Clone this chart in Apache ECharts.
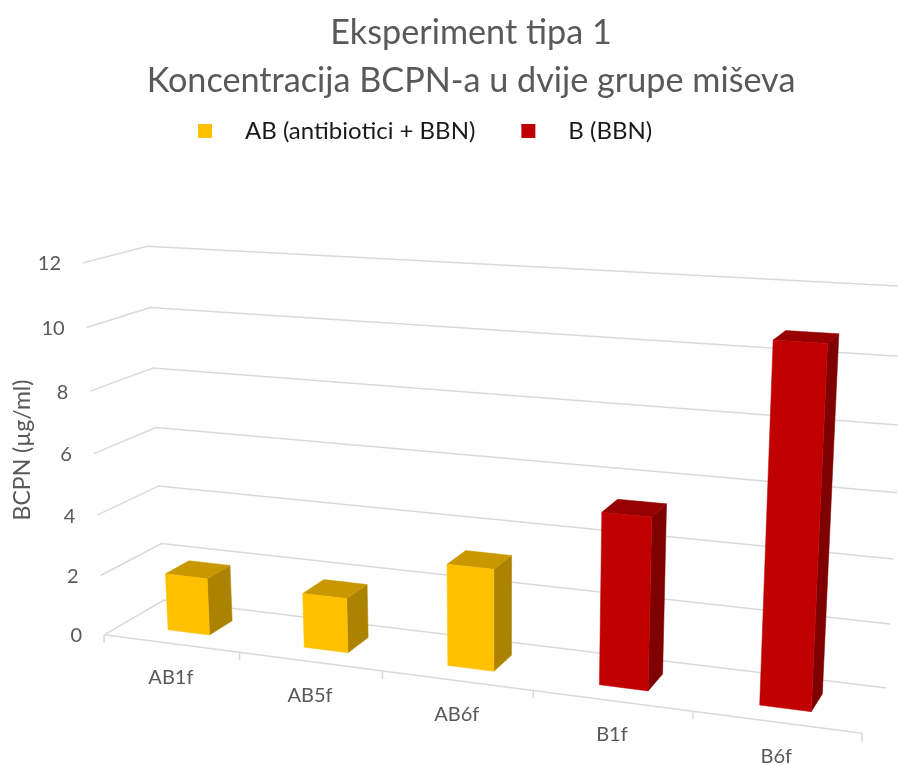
<!DOCTYPE html>
<html><head><meta charset="utf-8">
<style>html,body{margin:0;padding:0;background:#fff}#c{width:898px;height:765px}</style>
<script src="https://cdn.jsdelivr.net/npm/echarts@6/dist/echarts.min.js"></script>
</head><body><div id="c"></div>
<script>
const categories = ['AB1f','AB5f','AB6f','B1f','B6f'];
const abValues = [1.9,1.78,3.25,null,null];
const bValues = [null,null,null,5.35,10.75];
const yTicks = [0,2,4,6,8,10,12];
const FONT = 'Lato';

// Camera calibration: [X band, Y value, Z depth, screen x, screen y]
const anchors = [
 [0,0,0,105,634],[1,0,0,240,653],[2,0,0,382,672],[3,0,0,533,691],[4,0,0,693,711],[5,0,0,862,733],
 [0,12,0,82,263],[0,6,0,94,453],
 [0,0,1,163,600],[0,6,1,156,428],[0,12,1,148,246],
 [5,0,1,887,688],[5,6,1,897,492],[5,12,1,909,287]
];
function solve(A,b){const n=b.length;A=A.map((r,i)=>r.concat(b[i]));
 for(let c=0;c<n;c++){let m=c;for(let r=c+1;r<n;r++)if(Math.abs(A[r][c])>Math.abs(A[m][c]))m=r;
  [A[c],A[m]]=[A[m],A[c]];
  for(let r=0;r<n;r++){if(r===c)continue;const f=A[r][c]/A[c][c];for(let k=c;k<=n;k++)A[r][k]-=f*A[c][k];}}
 return A.map((r,i)=>r[n]/r[i]);}
const cam=(function(){const rows=[],rhs=[];
 anchors.forEach(([X,Y,Z,u,v])=>{const x=X/5,y=Y/12;u/=1000;v/=1000;
  rows.push([x,y,Z,1,0,0,0,0,-u*x,-u*y,-u*Z]);rhs.push(u);
  rows.push([0,0,0,0,x,y,Z,1,-v*x,-v*y,-v*Z]);rhs.push(v);});
 const n=11,N=[],t=[];
 for(let i=0;i<n;i++){N.push(new Array(n).fill(0));t.push(0);
  rows.forEach((r,k)=>{t[i]+=r[i]*rhs[k];for(let j=0;j<n;j++)N[i][j]+=r[i]*r[j];});}
 return solve(N,t);})();
function project(X,Y,Z){const x=X/5,y=Y/12,w=cam[8]*x+cam[9]*y+cam[10]*Z+1;
 return [1000*(cam[0]*x+cam[1]*y+cam[2]*Z+cam[3])/w,1000*(cam[4]*x+cam[5]*y+cam[6]*Z+cam[7])/w];}
// data value -> axis pixel (library scale) -> world -> screen
function mapper(params,api){const cs=params.coordSys;
 return function(i,v,dx,z){const c=api.coord([i,v]);
  const X=(c[0]-cs.x)/cs.width*categories.length+dx;
  const Y=(cs.y+cs.height-c[1])/cs.height*12;
  return project(X,Y,z);};}

const HALF=0.155,Z0=0.30,Z1=0.70;
function barItem(front,top,side){return function(params,api){
 const i=api.value(0),v=api.value(1);
 if(v==null||isNaN(v))return null;
 const m=mapper(params,api);
 const F=(dx,y,z)=>m(i,y,dx,z);
 const poly=(pts,fill)=>({type:'polygon',shape:{points:pts},style:{fill:fill,stroke:fill,lineWidth:0.5}});
 return {type:'group',children:[
  poly([F(HALF,0,Z0),F(HALF,0,Z1),F(HALF,v,Z1),F(HALF,v,Z0)],side),
  poly([F(-HALF,v,Z0),F(HALF,v,Z0),F(HALF,v,Z1),F(-HALF,v,Z1)],top),
  poly([F(-HALF,0,Z0),F(HALF,0,Z0),F(HALF,v,Z0),F(-HALF,v,Z0)],front)
 ]};
};}
function frameItem(params,api){
 const m=mapper(params,api);
 const n=categories.length;
 const first=-0.5; // offset from band 0 centre
 const at=(X,y,z)=>m(0,y,X+first,z);
 const line=(pts)=>({type:'polyline',shape:{points:pts},style:{fill:null,stroke:'#D9D9D9',lineWidth:1.5}});
 const label=(p,text,align)=>({type:'text',x:p[0],y:p[1],style:{text:text,fill:'#595959',font:'20px '+FONT,textAlign:align,textVerticalAlign:'middle'}});
 const ch=[];
 yTicks.forEach(y=>{ch.push(line([at(0,y,0),at(0,y,1),at(n,y,1)]));
  const p=at(0,y,0);ch.push(label([p[0]-22,p[1]+1],String(y),'right'));});
 ch.push(line([at(0,0,0),at(n,0,0)]));
 for(let k=0;k<=n;k++){const p=at(k,0,0);ch.push(line([p,[p[0],p[1]+8]]));}
 categories.forEach((c,k)=>{const p=at(k+0.5,0,0);ch.push(label([p[0],p[1]+34],c,'center'));});
 return {type:'group',children:ch};
}
const toData=a=>a.map((v,i)=>[i,v]);
const chart=echarts.init(document.getElementById('c'),null,{renderer:'canvas'});
chart.setOption({
 animation:false,backgroundColor:'#fff',
 title:{text:'Eksperiment tipa 1\nKoncentracija BCPN-a u dvije grupe miševa',left:466,top:4,textAlign:'center',
  textStyle:{fontFamily:FONT,fontSize:34.2,fontWeight:'normal',color:'#595959',lineHeight:48}},
 legend:{left:198,top:119,padding:0,icon:'rect',itemWidth:14,itemHeight:14,itemGap:46,
  data:['AB (antibiotici + BBN)','B (BBN)'],
  textStyle:{fontFamily:FONT,fontSize:24,color:'#1a1a1a',padding:[0,0,0,28]}},
 grid:{left:100,right:100,top:250,bottom:100},
 xAxis:{type:'category',data:categories,show:false},
 yAxis:{type:'value',min:0,max:12,interval:2,show:false},
 graphic:[{type:'text',x:23,y:450,rotation:Math.PI/2,
  style:{text:'BCPN (µg/ml)',fill:'#595959',font:'23px '+FONT,textAlign:'center',textVerticalAlign:'middle'}}],
 series:[
  {type:'custom',name:'frame',silent:true,renderItem:frameItem,data:[[0,0]],encode:{x:0,y:1},z:1},
  {type:'custom',name:'AB (antibiotici + BBN)',itemStyle:{color:'#FFC000'},renderItem:barItem('#FFC000','#C99700','#AB8300'),data:toData(abValues),encode:{x:0,y:1},z:2},
  {type:'custom',name:'B (BBN)',itemStyle:{color:'#C00000'},renderItem:barItem('#C00000','#960000','#7E0000'),data:toData(bValues),encode:{x:0,y:1},z:2}
 ]
});
</script></body></html>
